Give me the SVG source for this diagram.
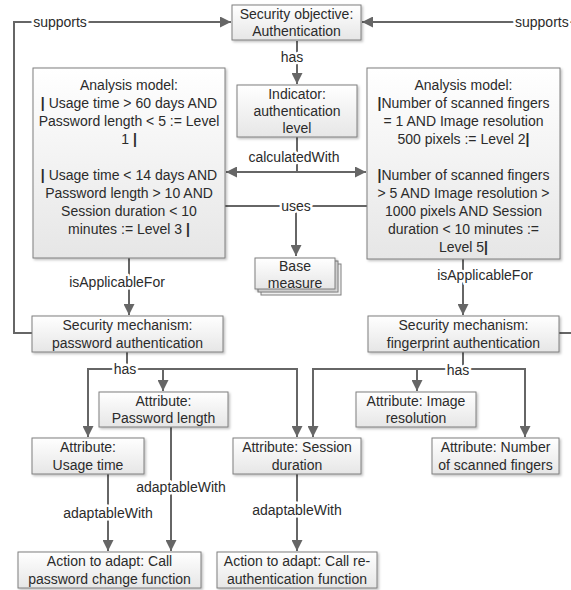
<svg xmlns="http://www.w3.org/2000/svg" width="571" height="590" viewBox="0 0 571 590">
<style>
text{font-family:"Liberation Sans",Arial,sans-serif;font-size:14px;fill:#2b2b2b;text-anchor:middle}
.box{fill:url(#g);stroke:#7f7f7f;stroke-width:1;filter:url(#sh)}
.ln{fill:none;stroke:#666;stroke-width:2}
.lbl{paint-order:stroke;stroke:#fff;stroke-width:5px;stroke-linejoin:round}
.b{font-weight:bold}
</style>
<defs>
<linearGradient id="g" x1="0" y1="0" x2="0" y2="1"><stop offset="0" stop-color="#ffffff"/><stop offset="1" stop-color="#e6e6e6"/></linearGradient>
<filter id="sh" x="-10%" y="-10%" width="130%" height="140%"><feDropShadow dx="1.5" dy="1.5" stdDeviation="0.8" flood-color="#000" flood-opacity="0.25"/></filter>
<marker id="a" markerUnits="userSpaceOnUse" markerWidth="11" markerHeight="11" viewBox="0 0 10 10" refX="10" refY="5" orient="auto"><path d="M0,0 L10,5 L0,10 z" fill="#666"/></marker>
</defs>
<g id="connectors">
<polyline class="ln" points="32,333 14,333 14,22 231,22" marker-end="url(#a)"/>
<polyline class="ln" points="559,333 571,333"/>
<polyline class="ln" points="571,22 362,22" marker-end="url(#a)"/>
<line class="ln" x1="297" y1="41" x2="297" y2="84" marker-end="url(#a)"/>
<line class="ln" x1="297" y1="137" x2="297" y2="172"/>
<line class="ln" x1="297" y1="172" x2="226" y2="172" marker-end="url(#a)"/>
<line class="ln" x1="297" y1="172" x2="366" y2="172" marker-end="url(#a)"/>
<line class="ln" x1="225" y1="206" x2="367" y2="206"/>
<line class="ln" x1="296" y1="206" x2="296" y2="256" marker-end="url(#a)"/>
<line class="ln" x1="129" y1="258" x2="129" y2="315" marker-end="url(#a)"/>
<line class="ln" x1="463" y1="259" x2="463" y2="315" marker-end="url(#a)"/>
<polyline class="ln" points="127,352 127,369"/>
<polyline class="ln" points="88,437 88,369 297,369 297,437" marker-end="url(#a)"/>
<line class="ln" x1="88" y1="380" x2="88" y2="437" marker-end="url(#a)"/>
<line class="ln" x1="163" y1="369" x2="163" y2="391" marker-end="url(#a)"/>
<polyline class="ln" points="463,352 463,369"/>
<polyline class="ln" points="313,437 313,369 525,369 525,437" marker-end="url(#a)"/>
<line class="ln" x1="313" y1="380" x2="313" y2="437" marker-end="url(#a)"/>
<line class="ln" x1="417" y1="369" x2="417" y2="391" marker-end="url(#a)"/>
<line class="ln" x1="108" y1="474" x2="108" y2="551" marker-end="url(#a)"/>
<line class="ln" x1="171" y1="427" x2="171" y2="551" marker-end="url(#a)"/>
<line class="ln" x1="297" y1="474" x2="297" y2="551" marker-end="url(#a)"/>
<text class="lbl" x="60" y="27">supports</text>
<text class="lbl" x="515" y="27" style="text-anchor:start">supports</text>
<text class="lbl" x="292" y="62">has</text>
<text class="lbl" x="294" y="162">calculatedWith</text>
<text class="lbl" x="296" y="211">uses</text>
<text class="lbl" x="117" y="287">isApplicableFor</text>
<text class="lbl" x="485" y="280">isApplicableFor</text>
<text class="lbl" x="125" y="374">has</text>
<text class="lbl" x="458" y="374.5">has</text>
<text class="lbl" x="181" y="492">adaptableWith</text>
<text class="lbl" x="108" y="518">adaptableWith</text>
<text class="lbl" x="297" y="515">adaptableWith</text>
</g>
<g id="security-objective">
<rect class="box" x="232" y="5" width="129" height="35"/>
<text x="296.5" y="19">Security objective:</text>
<text x="296.5" y="36">Authentication</text>
</g>
<g id="analysis-left">
<rect class="box" x="33" y="68" width="192" height="190"/>
<text x="129" y="90">Analysis model:</text>
<text x="129" y="108"><tspan class="b">|</tspan> Usage time &gt; 60 days AND</text>
<text x="129" y="126">Password length &lt; 5 := Level</text>
<text x="129" y="144">1 <tspan class="b">|</tspan></text>
<text x="129" y="180"><tspan class="b">|</tspan> Usage time &lt; 14 days AND</text>
<text x="129" y="198">Password length &gt; 10 AND</text>
<text x="129" y="216">Session duration &lt; 10</text>
<text x="129" y="234">minutes := Level 3 <tspan class="b">|</tspan></text>
</g>
<g id="indicator">
<rect class="box" x="237" y="85" width="120" height="52"/>
<text x="297" y="99">Indicator:</text>
<text x="297" y="116">authentication</text>
<text x="297" y="133">level</text>
</g>
<g id="analysis-right">
<rect class="box" x="367" y="68" width="193" height="191"/>
<text x="463.5" y="90">Analysis model:</text>
<text x="463.5" y="108"><tspan class="b">|</tspan>Number of scanned fingers</text>
<text x="463.5" y="126">= 1 AND Image resolution</text>
<text x="463.5" y="144">500 pixels  := Level 2<tspan class="b">|</tspan></text>
<text x="463.5" y="180"><tspan class="b">|</tspan>Number of scanned fingers</text>
<text x="463.5" y="198">&gt; 5 AND Image resolution &gt;</text>
<text x="463.5" y="216">1000 pixels AND Session</text>
<text x="463.5" y="234">duration &lt; 10 minutes :=</text>
<text x="463.5" y="252">Level 5<tspan class="b">|</tspan></text>
</g>
<g id="base-measure">
<rect x="261" y="264" width="80" height="31" fill="#f0f0f0" stroke="#7f7f7f"/>
<rect x="258" y="261" width="80" height="31" fill="#f4f4f4" stroke="#7f7f7f"/>
<rect class="box" x="255" y="258" width="80" height="31"/>
<text x="295" y="271">Base</text>
<text x="295" y="288">measure</text>
</g>
<g id="mech-password">
<rect class="box" x="32" y="316" width="191" height="36"/>
<text x="127.5" y="330">Security mechanism:</text>
<text x="127.5" y="347.5">password authentication</text>
</g>
<g id="mech-fingerprint">
<rect class="box" x="368" y="316" width="191" height="36"/>
<text x="463.5" y="330">Security mechanism:</text>
<text x="463.5" y="347.5">fingerprint authentication</text>
</g>
<g id="attr-password-length">
<rect class="box" x="99" y="392" width="129" height="35"/>
<text x="163.5" y="405.5">Attribute:</text>
<text x="163.5" y="423">Password length</text>
</g>
<g id="attr-usage-time">
<rect class="box" x="32" y="438" width="112" height="36"/>
<text x="88" y="452">Attribute:</text>
<text x="88" y="469.5">Usage time</text>
</g>
<g id="attr-session-duration">
<rect class="box" x="233" y="438" width="128" height="36"/>
<text x="297" y="452">Attribute: Session</text>
<text x="297" y="469.5">duration</text>
</g>
<g id="attr-image-resolution">
<rect class="box" x="356" y="392" width="120" height="35"/>
<text x="416" y="405.5">Attribute: Image</text>
<text x="416" y="423">resolution</text>
</g>
<g id="attr-number-fingers">
<rect class="box" x="432" y="438" width="127" height="36"/>
<text x="495.5" y="452">Attribute: Number</text>
<text x="495.5" y="469.5">of scanned fingers</text>
</g>
<g id="action-password">
<rect class="box" x="18" y="552" width="183" height="36"/>
<text x="109.5" y="566">Action to adapt: Call</text>
<text x="109.5" y="583.5">password change function</text>
</g>
<g id="action-reauth">
<rect class="box" x="217" y="552" width="160" height="36"/>
<text x="297" y="566">Action to adapt: Call re-</text>
<text x="297" y="583.5">authentication function</text>
</g>
</svg>
